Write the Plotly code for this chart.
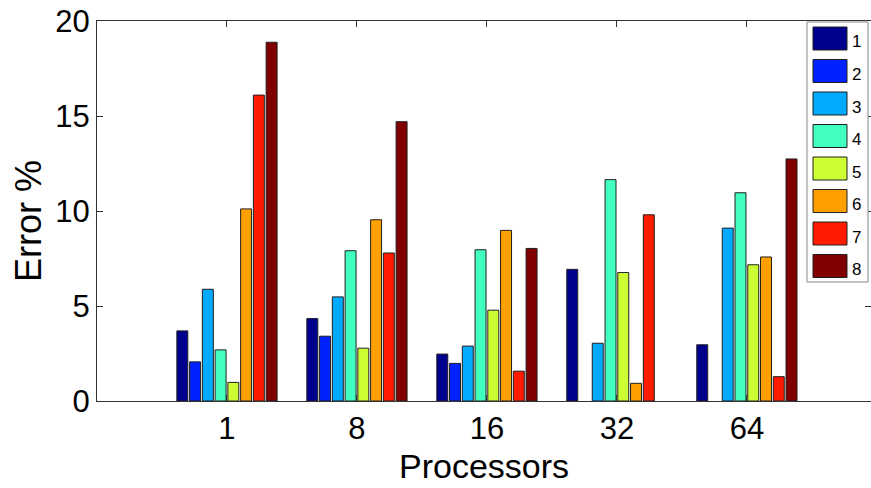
import plotly.graph_objects as go

processors = ["1", "8", "16", "32", "64"]
series_names = ["1", "2", "3", "4", "5", "6", "7", "8"]
colors = ["#00008F", "#0022FF", "#00AAFF", "#40FFBF", "#CCFF33", "#FFA000", "#FF1A00", "#800000"]
# error % per series for each processor count (None = no bar drawn)
s1 = [3.69, 4.34, 2.47, 6.93, 2.96]
s2 = [2.06, 3.41, 1.98, None, None]
s3 = [5.88, 5.48, 2.89, 3.04, 9.10]
s4 = [2.69, 7.91, 7.96, 11.65, 10.96]
s5 = [0.98, 2.78, 4.78, 6.76, 7.17]
s6 = [10.11, 9.54, 8.98, 0.93, 7.58]
s7 = [16.10, 7.79, 1.57, 9.80, 1.28]
s8 = [18.88, 14.70, 8.03, None, 12.74]
series = [s1, s2, s3, s4, s5, s6, s7, s8]
yticks = [0, 5, 10, 15, 20]

W, H = 871, 488
L, R, T, B = 97, 0, 21, 87
pw, ph = W - L - R, H - T - B

def px(x):
    return (x - L) / pw

def py(y):
    return (H - B - y) / ph

xpos = list(range(1, len(processors) + 1))
fig = go.Figure()
for name, vals, c in zip(series_names, series, colors):
    fig.add_trace(go.Bar(x=xpos, y=vals, name=name, marker=dict(color=c, line=dict(color="#202020", width=1)),
                         showlegend=False))

font = "Liberation Sans, Arial, Helvetica, sans-serif"
fig.update_layout(
    width=W, height=H, margin=dict(l=L, r=R, t=T, b=B, autoexpand=False),
    plot_bgcolor="white", paper_bgcolor="white",
    barmode="group", bargap=0.215, bargroupgap=0.14,
    font=dict(family=font, color="black"),
    xaxis=dict(range=[0, 5.955], tickvals=xpos, ticktext=processors, ticks="inside", ticklen=6,
               tickcolor="#333", showline=True, linecolor="#333", linewidth=1, mirror="ticks",
               showgrid=False, zeroline=False, tickfont=dict(size=31), automargin=False),
    yaxis=dict(range=[0, 20], tickvals=yticks, ticks="inside", ticklen=6, tickcolor="#333",
               showline=True, linecolor="#333", linewidth=1, mirror="ticks",
               showgrid=False, zeroline=False, tickfont=dict(size=31), automargin=False),
)

# axis titles
fig.add_annotation(text="Processors", x=px(484), y=py(466), xref="paper", yref="paper",
                   showarrow=False, font=dict(size=34), xanchor="center", yanchor="middle")
fig.add_annotation(text="Error %", x=px(28), y=py(221), xref="paper", yref="paper",
                   showarrow=False, font=dict(size=36), textangle=-90, xanchor="center", yanchor="middle")

# legend box
fig.add_shape(type="rect", xref="paper", yref="paper", x0=px(807), x1=px(868), y0=py(282), y1=py(22),
              line=dict(color="#888", width=1), fillcolor="white", layer="above")
for i, (name, c) in enumerate(zip(series_names, colors)):
    top = 27 + i * 32.5
    fig.add_shape(type="rect", xref="paper", yref="paper", x0=px(813), x1=px(847), y0=py(top + 23), y1=py(top),
                  line=dict(color="#202020", width=1), fillcolor=c, layer="above")
    fig.add_annotation(text=name, x=px(850), y=py(top + 15), xref="paper", yref="paper", showarrow=False,
                       font=dict(size=17), xanchor="left", yanchor="middle")

fig.write_html("out.html", config={"displayModeBar": False},
               post_script="document.body.style.margin='0px';document.body.style.overflow='hidden';")
